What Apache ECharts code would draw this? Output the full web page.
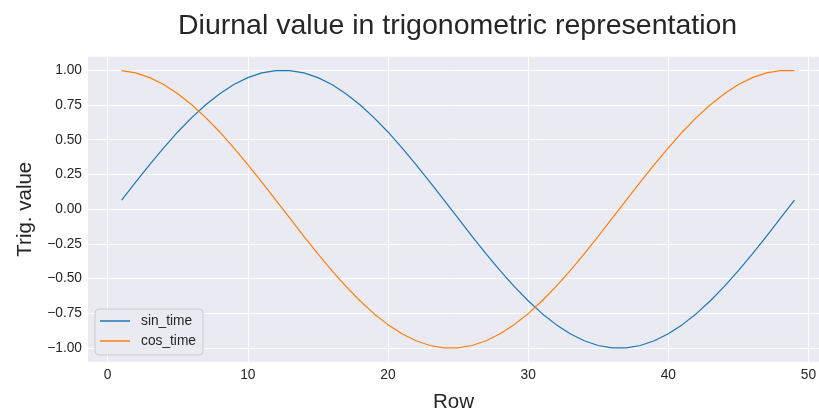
<!DOCTYPE html>
<html>
<head>
<meta charset="utf-8">
<script src="https://cdn.jsdelivr.net/npm/echarts@6/dist/echarts.min.js"></script>
<style>
  html, body { margin: 0; padding: 0; background: #fff; }
  #main { width: 819px; height: 414px; }
</style>
</head>
<body>
<div id="main"></div>
<script>
// rows of the table (x axis)
const rows = [1, 2, 3, 4, 5, 6, 7, 8, 9, 10, 11, 12, 13, 14, 15, 16, 17, 18, 19, 20,
  21, 22, 23, 24, 25, 26, 27, 28, 29, 30, 31, 32, 33, 34, 35, 36, 37, 38, 39, 40,
  41, 42, 43, 44, 45, 46, 47, 48, 49];

// values
const sinTime = [0.065, 0.195, 0.321, 0.442, 0.556, 0.659, 0.752, 0.831, 0.897, 0.947, 0.981, 0.998,
  0.998, 0.981, 0.947, 0.897, 0.831, 0.752, 0.659, 0.556, 0.442, 0.321, 0.195, 0.065,
  -0.065, -0.195, -0.321, -0.442, -0.556, -0.659, -0.752, -0.831, -0.897, -0.947, -0.981, -0.998,
  -0.998, -0.981, -0.947, -0.897, -0.831, -0.752, -0.659, -0.556, -0.442, -0.321, -0.195, -0.065,
  0.065];
const cosTime = [0.998, 0.981, 0.947, 0.897, 0.831, 0.752, 0.659, 0.556, 0.442, 0.321, 0.195, 0.065,
  -0.065, -0.195, -0.321, -0.442, -0.556, -0.659, -0.752, -0.831, -0.897, -0.947, -0.981, -0.998,
  -0.998, -0.981, -0.947, -0.897, -0.831, -0.752, -0.659, -0.556, -0.442, -0.321, -0.195, -0.065,
  0.065, 0.195, 0.321, 0.442, 0.556, 0.659, 0.752, 0.831, 0.897, 0.947, 0.981, 0.998,
  0.998];

// tick labels
const xTicks = [0, 10, 20, 30, 40, 50];
const yTicks = [-1, -0.75, -0.5, -0.25, 0, 0.25, 0.5, 0.75, 1];

const font = "'Liberation Sans', Arial, sans-serif";
const textColor = '#262626';

let chart = echarts.init(document.getElementById('main'), null, { renderer: 'canvas' });

let option = {
  animation: false,
  backgroundColor: '#ffffff',
  color: ['#1f77b4', '#ff7f0e'],
  title: {
    text: 'Diurnal value in trigonometric representation',
    left: 178,
    top: 12,
    padding: 0,
    textStyle: { fontFamily: font, fontSize: 28.5, fontWeight: 'normal', color: textColor }
  },
  grid: {
    left: 88,
    right: 0,
    top: 56.7,
    bottom: 52.3,
    outerBoundsMode: 'none',
    show: true,
    backgroundColor: '#eaeaf2',
    borderWidth: 0
  },
  legend: {
    orient: 'vertical',
    left: 95,
    top: 309,
    padding: [5, 7, 7, 5],
    itemGap: 6,
    itemWidth: 30,
    itemHeight: 1.5,
    icon: 'rect',
    backgroundColor: '#eaeaf2',
    borderColor: '#cccccc',
    borderWidth: 1,
    borderRadius: 4,
    textStyle: {
      fontFamily: font, fontSize: 13.75, color: textColor,
      lineHeight: 14, padding: [0, 0, 0, 6]
    },
    data: ['sin_time', 'cos_time']
  },
  xAxis: {
    type: 'value',
    min: -1.4,
    max: 50.75,
    name: 'Row',
    nameLocation: 'middle',
    nameGap: 30,
    nameTextStyle: { fontFamily: font, fontSize: 20.5, color: textColor, verticalAlign: 'top' },
    axisLine: { show: false },
    axisTick: { show: false, customValues: xTicks },
    axisLabel: {
      customValues: xTicks,
      margin: 7,
      fontFamily: font, fontSize: 13.75, color: textColor
    },
    splitLine: { show: true, lineStyle: { color: '#ffffff', width: 1 } }
  },
  yAxis: {
    type: 'value',
    min: -1.0977,
    max: 1.0977,
    name: 'Trig. value',
    nameLocation: 'middle',
    nameGap: 52,
    nameTextStyle: { fontFamily: font, fontSize: 20.5, color: textColor },
    axisLine: { show: false },
    axisTick: { show: false, customValues: yTicks },
    axisLabel: {
      customValues: yTicks,
      margin: 6,
      fontFamily: font, fontSize: 13.75, color: textColor,
      formatter: function (v) {
        return (v < 0 ? '\u2212' : '') + Math.abs(v).toFixed(2);
      }
    },
    splitLine: { show: true, lineStyle: { color: '#ffffff', width: 1 } }
  },
  series: [
    {
      name: 'sin_time',
      type: 'line',
      showSymbol: false,
      lineStyle: { width: 1.2 },
      data: rows.map((r, i) => [r, sinTime[i]])
    },
    {
      name: 'cos_time',
      type: 'line',
      showSymbol: false,
      lineStyle: { width: 1.2 },
      data: rows.map((r, i) => [r, cosTime[i]])
    }
  ]
};

chart.setOption(option);
</script>
</body>
</html>
